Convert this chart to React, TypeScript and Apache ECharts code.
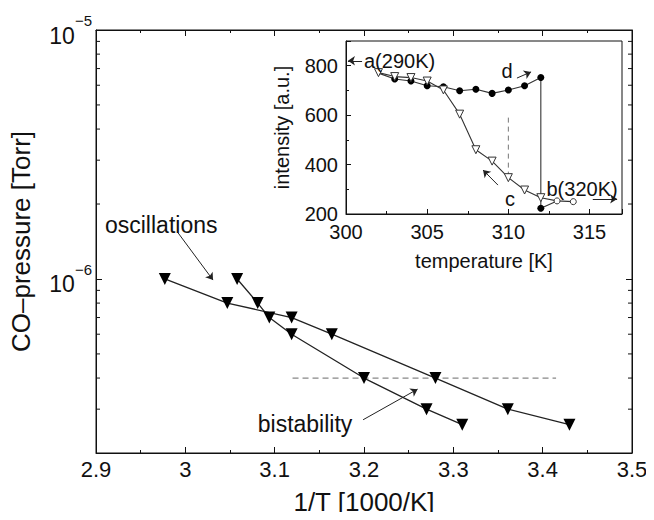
import { useEffect, useRef } from 'react';
import * as echarts from 'echarts';

// ---- main plot data ----
const mainX1 = [2.977, 3.047, 3.119, 3.164, 3.28, 3.361, 3.43];
const mainY1 = [1.0e-6, 8.0e-7, 7.0e-7, 6.0e-7, 4.0e-7, 3.0e-7, 2.6e-7];
const mainX2 = [3.058, 3.081, 3.094, 3.119, 3.2, 3.27, 3.31];
const mainY2 = [1.0e-6, 8.0e-7, 7.0e-7, 6.0e-7, 4.0e-7, 3.0e-7, 2.6e-7];
const dashX = [3.12, 3.415];
const dashY = [4e-7, 4e-7];
const logMinorVals = [3e-7, 4e-7, 5e-7, 6e-7, 7e-7, 8e-7, 9e-7, 2e-6, 3e-6, 4e-6, 5e-6, 6e-6, 7e-6, 8e-6, 9e-6];

// ---- inset data ----
const heatT = [302, 303, 304, 305, 306, 307, 308, 309, 310, 311, 312, 312, 313];
const heatI = [770, 746, 738, 719, 715, 699, 705, 688, 702, 719, 752, 223, 253];
const coolT = [302, 303, 304, 305, 306, 307, 308, 309, 310, 311, 312, 313, 314];
const coolI = [772, 756, 752, 738, 702, 604, 460, 414, 347, 297, 266, 253, 250];
const vdashT = [310, 310];
const vdashI = [590, 350];

// ---- annotations ----
const mainNoteText = ['oscillations', 'bistability'];
const mainNoteX = [2.973, 3.134];
const mainNoteY = [1.65e-6, 2.62e-7];
const mainArrows = [
  [[2.992, 1.53e-6], [3.031, 0.99e-6]],
  [[3.199, 2.72e-7], [3.26, 3.61e-7]],
];
const insetNoteText = ['a(290K)', 'd', 'c', 'b(320K)'];
const insetNoteX = [303.3, 309.92, 310.1, 314.54];
const insetNoteY = [819, 779, 261, 301];
const insetArrows = [
  [[300.99, 820], [300.12, 820]],
  [[310.53, 750], [311.4, 775]],
  [[309.36, 317], [308.44, 378]],
  [[315.2, 261], [316.7, 261]],
];

const FONT = 'Liberation Sans, Arial, Helvetica, sans-serif';
const INK = '#111';

export default function App() {
  const ref = useRef<HTMLDivElement>(null);
  useEffect(() => {
    if (!ref.current) return;
    const chart = echarts.init(ref.current, null, { renderer: 'svg' });
    const zip = (a: number[], b: number[]) => a.map((v, i) => [v, b[i]]);

    const logFmt = (v: number) => {
      const e = Math.log10(v);
      const r = Math.round(e);
      if (Math.abs(e - r) > 1e-6) return '';
      return `{b|10}{s|${r < 0 ? '\u2212' : ''}${Math.abs(r)}}`;
    };

    const arrowLine = (arrs: number[][][]) => ({
      silent: true,
      symbol: ['none', 'arrow'],
      symbolSize: 7,
      label: { show: false },
      lineStyle: { color: '#222', width: 1, type: 'solid' },
      data: arrs.map((a) => [{ coord: a[0] }, { coord: a[1] }]),
    });

    const noteSeries = (xi: number, yi: number, texts: string[], xs: number[], ys: number[], size: number, arrows: number[][][]) => ({
      type: 'custom', xAxisIndex: xi, yAxisIndex: yi, silent: true, z: 5,
      data: xs.map((x, i) => [x, ys[i]]),
      renderItem: (params: any, api: any) => {
        const p = api.coord([api.value(0), api.value(1)]);
        return {
          type: 'text',
          x: p[0],
          y: p[1],
          style: {
            text: texts[params.dataIndex],
            fill: INK,
            font: `${size}px ${FONT}`,
            align: 'center',
            verticalAlign: 'middle',
          },
        };
      },
      markLine: arrowLine(arrows),
    });

    const option: any = {
      animation: false,
      backgroundColor: '#fff',
      textStyle: { fontFamily: FONT, color: INK },
      grid: [
        { left: 96, top: 30, width: 536, height: 430, show: true, borderColor: INK, borderWidth: 1 },
        { left: 346, top: 41, width: 276, height: 173, show: true, borderColor: INK, borderWidth: 1, backgroundColor: '#fff' },
      ],
      xAxis: [
        {
          type: 'value', gridIndex: 0, min: 2.9, max: 3.5, interval: 0.1,
          name: '1/T [1000/K]', nameLocation: 'middle', nameGap: 36,
          nameTextStyle: { fontSize: 26, fontFamily: FONT, color: INK },
          axisLine: { show: true, lineStyle: { color: INK } },
          axisTick: { show: true, inside: true, length: 6, lineStyle: { color: INK } },
          minorTick: { show: true, splitNumber: 2, length: 3, lineStyle: { color: INK } },
          splitLine: { show: false },
          axisLabel: { fontSize: 22, margin: 5, color: INK, fontFamily: FONT },
        },
        {
          type: 'value', gridIndex: 0, position: 'top', min: 2.9, max: 3.5, interval: 0.1,
          axisLine: { show: true, lineStyle: { color: INK } },
          axisTick: { show: true, inside: true, length: 6, lineStyle: { color: INK } },
          minorTick: { show: true, splitNumber: 2, length: 3, lineStyle: { color: INK } },
          splitLine: { show: false },
          axisLabel: { show: false },
        },
        {
          type: 'value', gridIndex: 1, min: 300, max: 317, interval: 5,
          name: 'temperature [K]', nameLocation: 'middle', nameGap: 37,
          nameTextStyle: { fontSize: 20, fontFamily: FONT, color: INK },
          axisLine: { show: true, lineStyle: { color: INK } },
          axisTick: { show: true, inside: true, length: 5, lineStyle: { color: INK } },
          minorTick: { show: true, splitNumber: 2, length: 3, lineStyle: { color: INK } },
          splitLine: { show: false },
          axisLabel: {
            fontSize: 20, margin: 8, color: INK, fontFamily: FONT,
            formatter: (v: number) => (v % 5 === 0 ? String(v) : ''),
          },
        },
      ],
      yAxis: [
        {
          type: 'log', logBase: 10, gridIndex: 0, min: 2e-7, max: 1e-5,
          name: 'CO\u2013pressure [Torr]', nameLocation: 'middle', nameGap: 62,
          nameTextStyle: { fontSize: 26, fontFamily: FONT, color: INK },
          axisLine: { show: true, lineStyle: { color: INK } },
          axisTick: { show: true, inside: true, length: 6, lineStyle: { color: INK } },
          minorTick: { show: false },
          splitLine: { show: false },
          axisLabel: {
            margin: 4, color: INK, fontFamily: FONT,
            formatter: logFmt,
            rich: {
              b: { fontSize: 23, fontFamily: FONT, color: INK, lineHeight: 34, verticalAlign: 'bottom' },
              s: { fontSize: 15, fontFamily: FONT, color: INK, lineHeight: 34, verticalAlign: 'top' },
            },
          },
        },
        {
          type: 'log', logBase: 10, gridIndex: 0, position: 'right', min: 2e-7, max: 1e-5,
          axisLine: { show: true, lineStyle: { color: INK } },
          axisTick: { show: true, inside: true, length: 6, lineStyle: { color: INK } },
          splitLine: { show: false },
          axisLabel: { show: false },
        },
        {
          type: 'value', gridIndex: 1, min: 200, max: 900, interval: 200,
          name: 'intensity [a.u.]', nameLocation: 'middle', nameGap: 54,
          nameTextStyle: { fontSize: 20, fontFamily: FONT, color: INK },
          axisLine: { show: true, lineStyle: { color: INK } },
          axisTick: { show: true, inside: true, length: 5, lineStyle: { color: INK } },
          minorTick: { show: true, splitNumber: 2, length: 3, lineStyle: { color: INK } },
          splitLine: { show: false },
          axisLabel: {
            fontSize: 20, margin: 8, color: INK, fontFamily: FONT,
            formatter: (v: number) => (v % 200 === 0 ? String(v) : ''),
          },
        },
      ],
      series: [
        // log minor ticks (left and right) through the main scale
        {
          type: 'custom', xAxisIndex: 0, yAxisIndex: 0, silent: true,
          data: logMinorVals.map((v) => [2.9, v]),
          renderItem: (params: any, api: any) => {
            const v = api.value(1);
            const pL = api.coord([2.9, v]);
            const pR = api.coord([3.5, v]);
            return {
              type: 'group',
              children: [
                { type: 'line', shape: { x1: pL[0], y1: pL[1], x2: pL[0] + 4, y2: pL[1] }, style: { stroke: INK, lineWidth: 1 } },
                { type: 'line', shape: { x1: pR[0] - 4, y1: pR[1], x2: pR[0], y2: pR[1] }, style: { stroke: INK, lineWidth: 1 } },
              ],
            };
          },
        },
        {
          type: 'line', xAxisIndex: 0, yAxisIndex: 0,
          data: zip(dashX, dashY), symbol: 'none',
          lineStyle: { color: '#888', width: 1.2, type: [6, 4] },
        },
        {
          type: 'line', xAxisIndex: 0, yAxisIndex: 0,
          data: zip(mainX1, mainY1),
          symbol: 'triangle', symbolRotate: 180, symbolSize: 12,
          itemStyle: { color: '#000' },
          lineStyle: { color: '#222', width: 1.3 },
        },
        {
          type: 'line', xAxisIndex: 0, yAxisIndex: 0,
          data: zip(mainX2, mainY2),
          symbol: 'triangle', symbolRotate: 180, symbolSize: 12,
          itemStyle: { color: '#000' },
          lineStyle: { color: '#222', width: 1.3 },
        },
        noteSeries(0, 0, mainNoteText, mainNoteX, mainNoteY, 23, mainArrows),
        // inset
        {
          type: 'line', xAxisIndex: 2, yAxisIndex: 2,
          data: zip(vdashT, vdashI), symbol: 'none',
          lineStyle: { color: '#777', width: 1, type: [5, 4] },
        },
        {
          type: 'line', xAxisIndex: 2, yAxisIndex: 2,
          data: zip(heatT, heatI).map((p, i) => (i === 0 || i === heatT.length - 1 ? { value: p, symbol: 'none' } : { value: p })),
          symbol: 'circle', symbolSize: 7,
          itemStyle: { color: '#000' },
          lineStyle: { color: '#333', width: 1.1 },
        },
        {
          type: 'line', xAxisIndex: 2, yAxisIndex: 2,
          data: zip(coolT, coolI).map((p, i) => (i >= coolT.length - 2 ? { value: p, symbol: 'circle', symbolSize: 6, symbolRotate: 0 } : { value: p })),
          symbol: 'triangle', symbolRotate: 180, symbolSize: 8,
          itemStyle: { color: '#fff', borderColor: '#333', borderWidth: 1 },
          lineStyle: { color: '#333', width: 1.1 },
          z: 3,
        },
        noteSeries(2, 2, insetNoteText, insetNoteX, insetNoteY, 20, insetArrows),
      ],
    };
    chart.setOption(option);
    return () => chart.dispose();
  }, []);
  return <div ref={ref} style={{ width: 654, height: 520, margin: -8 }} />;
}
